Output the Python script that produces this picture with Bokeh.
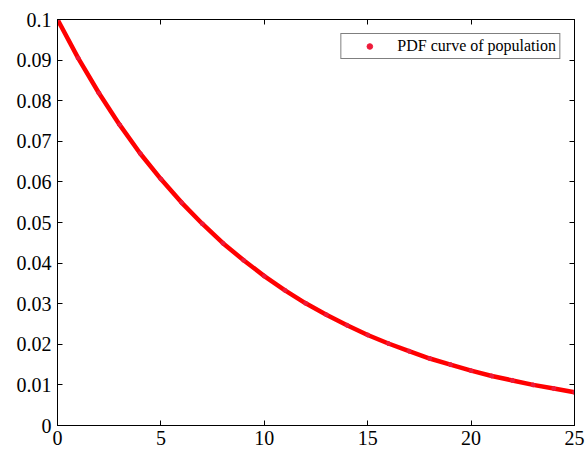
from bokeh.plotting import figure
from bokeh.models import FixedTicker, LinearAxis, Range1d, Legend, LegendItem
from bokeh.embed import file_html
from bokeh.resources import INLINE

# Values
x_vals = [0, 1, 2, 3, 4, 5, 6, 7, 8, 9, 10, 11, 12, 13, 14, 15, 16, 17, 18, 19, 20, 21, 22, 23, 24, 25]
pdf_vals = [0.1, 0.0905, 0.0819, 0.0741, 0.0670, 0.0607, 0.0549, 0.0497, 0.0449, 0.0407,
            0.0368, 0.0333, 0.0301, 0.0273, 0.0247, 0.0223, 0.0202, 0.0183, 0.0165, 0.0150,
            0.0135, 0.0122, 0.0111, 0.0100, 0.0091, 0.0082]
x_ticks = [0, 5, 10, 15, 20, 25]
x_tick_labels = ["0", "5", "10", "15", "20", "25"]
y_ticks = [0, 0.01, 0.02, 0.03, 0.04, 0.05, 0.06, 0.07, 0.08, 0.09, 0.1]
y_tick_labels = ["0", "0.01", "0.02", "0.03", "0.04", "0.05", "0.06", "0.07", "0.08", "0.09", "0.1"]
legend_label = "PDF curve of population"

FONT = "Liberation Serif"

p = figure(width=587, height=451, output_backend="svg", toolbar_location=None,
           x_range=Range1d(0, 25), y_range=Range1d(0, 0.1),
           min_border_left=57, min_border_top=19, min_border_right=13, min_border_bottom=26)
p.grid.visible = False
p.outline_line_color = "black"
p.outline_line_width = 1
p.background_fill_color = "white"
p.border_fill_color = "white"

def style_axis(ax, ticks, labels, show):
    ax.ticker = FixedTicker(ticks=ticks)
    ax.major_label_overrides = {t: l for t, l in zip(ticks, labels)}
    ax.major_tick_in = 5
    ax.major_tick_out = 0
    ax.minor_tick_in = 0
    ax.minor_tick_out = 0
    ax.axis_line_color = "black"
    ax.major_tick_line_color = "black"
    ax.major_label_text_font = FONT
    ax.major_label_text_font_size = "20px"
    ax.major_label_text_color = "black"
    ax.major_label_standoff = 5
    if not show:
        ax.major_label_text_alpha = 0
        ax.major_label_text_font_size = "1px"
        ax.major_label_standoff = 0

style_axis(p.xaxis[0], x_ticks, x_tick_labels, True)
style_axis(p.yaxis[0], y_ticks, y_tick_labels, True)
p.yaxis[0].major_label_standoff = 6

top_ax = LinearAxis()
style_axis(top_ax, x_ticks, x_tick_labels, False)
p.add_layout(top_ax, "above")
right_ax = LinearAxis()
style_axis(right_ax, y_ticks, y_tick_labels, False)
p.add_layout(right_ax, "right")

p.line(x_vals, pdf_vals, line_color="#ff0000", line_width=4.5)
dots = p.scatter(x_vals, pdf_vals, size=4, color="#ee1a3a", marker="circle")

legend = Legend(items=[LegendItem(label=legend_label, renderers=[dots])],
                location="top_right")
legend.label_text_font = FONT
legend.label_text_font_size = "16px"
legend.label_text_color = "black"
legend.border_line_color = "black"
legend.border_line_width = 1
legend.background_fill_color = "white"
legend.background_fill_alpha = 1
legend.padding = 3
legend.spacing = 0
legend.margin = 14
legend.glyph_width = 50
legend.glyph_height = 14
legend.label_standoff = 3
legend.label_height = 14
p.add_layout(legend, "center")

open("out.html", "w").write(file_html(p, INLINE))
